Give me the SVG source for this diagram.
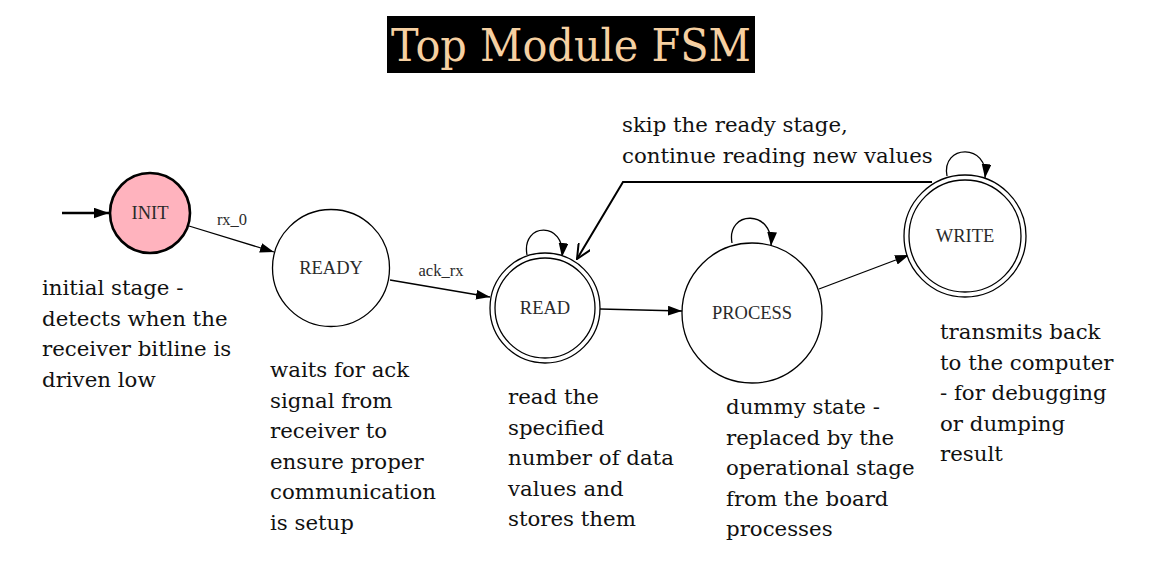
<svg xmlns="http://www.w3.org/2000/svg" width="1150" height="588" viewBox="0 0 1150 588">
<defs>
<marker id="ah" viewBox="0 0 10 7" refX="10" refY="3.5" markerWidth="14" markerHeight="10" markerUnits="userSpaceOnUse" orient="auto">
<path d="M0,0 L10,3.5 L0,7 z" fill="#000"/>
</marker>
<marker id="ahBig" viewBox="0 0 10 7" refX="10" refY="3.5" markerWidth="15" markerHeight="11" markerUnits="userSpaceOnUse" orient="auto">
<path d="M0,0 L10,3.5 L0,7 z" fill="#000"/>
</marker>
<marker id="ahOpen" viewBox="0 0 16 14" refX="15" refY="7" markerWidth="16" markerHeight="14" markerUnits="userSpaceOnUse" orient="auto">
<path d="M0,0 L15,7 L0,14" fill="none" stroke="#000" stroke-width="2"/>
</marker>
<style>
.node{fill:#fff;stroke:#000;stroke-width:1.3}
.lbl{font-family:"Liberation Serif","Times New Roman",serif;font-size:18.5px;fill:#2a2a2a;text-anchor:middle}
.elbl{font-family:"Liberation Serif","Times New Roman",serif;font-size:16.5px;fill:#2a2a2a;text-anchor:middle}
.edge{fill:none;stroke:#000;stroke-width:1.3;marker-end:url(#ah)}
.note{font-family:"DejaVu Serif",serif;font-size:21.3px;fill:#111}
</style>
</defs>
<rect width="1150" height="588" fill="#fff"/>
<g id="title">
<rect x="387" y="16" width="368" height="57" fill="#000"/>
<text x="571" y="61" text-anchor="middle" font-family="DejaVu Serif, serif" font-size="45px" fill="#F6D0A2" textLength="360" lengthAdjust="spacingAndGlyphs">Top Module FSM</text>
</g>
<g id="connectors">
<line x1="62" y1="213" x2="109" y2="213" stroke="#000" stroke-width="2.6" marker-end="url(#ahBig)"/>
<line class="edge" x1="189" y1="226" x2="274" y2="252"/>
<text class="elbl" x="232" y="225">rx_0</text>
<line class="edge" x1="390" y1="280" x2="490" y2="297"/>
<text class="elbl" x="441" y="276">ack_rx</text>
<path class="edge" d="M527,255 C521,222 566,221 562,257"/>
<line class="edge" x1="600" y1="309" x2="682" y2="311"/>
<path class="edge" d="M732,243 C726,210 774,209 771,246"/>
<line class="edge" x1="819" y1="289" x2="909" y2="255"/>
<path class="edge" d="M947,176 C941,144 989,143 985,178"/>
<polyline points="932,182 623,182 577,259" fill="none" stroke="#000" stroke-width="2" marker-end="url(#ahOpen)"/>
</g>
<g id="INIT">
<circle cx="150" cy="213" r="40" fill="#FFB3BE" stroke="#000" stroke-width="2.6"/>
<text class="lbl" x="150" y="219">INIT</text>
</g>
<g id="READY">
<circle class="node" cx="331" cy="268" r="58.5"/>
<text class="lbl" x="331" y="274">READY</text>
</g>
<g id="READ">
<circle class="node" cx="545" cy="308" r="55"/>
<circle class="node" cx="545" cy="308" r="50"/>
<text class="lbl" x="545" y="314">READ</text>
</g>
<g id="PROCESS">
<circle class="node" cx="752" cy="313" r="70"/>
<text class="lbl" x="752" y="319">PROCESS</text>
</g>
<g id="WRITE">
<circle class="node" cx="965" cy="236" r="61"/>
<circle class="node" cx="965" cy="236" r="56"/>
<text class="lbl" x="965" y="242">WRITE</text>
</g>
<g id="notes">
<text class="note" x="622" y="132">skip the ready stage,</text>
<text class="note" x="622" y="163">continue reading new values</text>
<text class="note" x="42" y="295">initial stage -</text>
<text class="note" x="42" y="326">detects when the</text>
<text class="note" x="42" y="356">receiver bitline is</text>
<text class="note" x="42" y="387">driven low</text>
<text class="note" x="270" y="377">waits for ack</text>
<text class="note" x="270" y="408">signal from</text>
<text class="note" x="270" y="438">receiver to</text>
<text class="note" x="270" y="469">ensure proper</text>
<text class="note" x="270" y="499">communication</text>
<text class="note" x="270" y="530">is setup</text>
<text class="note" x="508" y="404">read the</text>
<text class="note" x="508" y="435">specified</text>
<text class="note" x="508" y="465">number of data</text>
<text class="note" x="508" y="496">values and</text>
<text class="note" x="508" y="526">stores them</text>
<text class="note" x="726" y="414">dummy state -</text>
<text class="note" x="726" y="445">replaced by the</text>
<text class="note" x="726" y="475">operational stage</text>
<text class="note" x="726" y="506">from the board</text>
<text class="note" x="726" y="536">processes</text>
<text class="note" x="940" y="339">transmits back</text>
<text class="note" x="940" y="370">to the computer</text>
<text class="note" x="940" y="400">- for debugging</text>
<text class="note" x="940" y="431">or dumping</text>
<text class="note" x="940" y="461">result</text>
</g>
</svg>
